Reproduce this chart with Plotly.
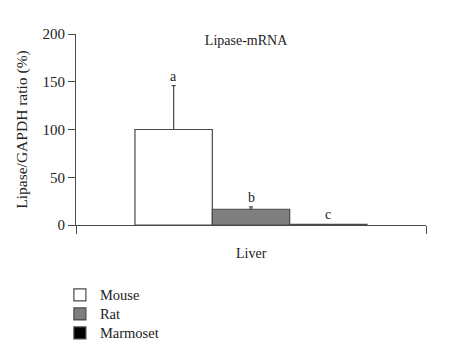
import plotly.graph_objects as go

categories = ["Liver"]
species = ["Mouse", "Rat", "Marmoset"]
values = [100, 16.5, 0.6]
errors_up = [46, 2.5, 0]
fills = ["white", "#7f7f7f", "black"]
labels = ["a", "b", "c"]
yticks = [0, 50, 100, 150, 200]

FONT = "Liberation Serif"
LINE = "#4a4a4a"
TXT = "#222"

fig = go.Figure()
for name, v, e, c in zip(species, values, errors_up, fills):
    fig.add_trace(go.Bar(
        x=[0], y=[v], name=f"<span style='font-size:14.5px'>{name}</span>",
        marker=dict(color=c, line=dict(color=LINE, width=1.2)),
        error_y=dict(type="data", symmetric=False, array=[e], arrayminus=[0],
                     color=LINE, thickness=1.2, width=2, visible=e > 0),
    ))

# significance letters above each bar
n = len(species)
bgap = 0.337
bw = (1 - bgap) / n
for i, (v, e, t) in enumerate(zip(values, errors_up, labels)):
    xc = -0.5 + bgap / 2 + bw * (i + 0.5)
    fig.add_annotation(x=xc, y=v + e, text=t, showarrow=False, yanchor="bottom",
                       yshift=0, font=dict(family=FONT, size=14, color=TXT))

fig.add_annotation(x=0, y=0, text=categories[0], showarrow=False, yanchor="top",
                   yshift=-19, font=dict(family=FONT, size=14, color=TXT))

fig.update_layout(
    width=445, height=342,
    margin=dict(l=68, r=27, t=26, b=125, autoexpand=False),
    paper_bgcolor="white", plot_bgcolor="white",
    barmode="group", bargap=bgap, bargroupgap=0,
    title=dict(text="Lipase-mRNA", x=0.535, xanchor="center", y=0.905, yanchor="middle",
               font=dict(family=FONT, size=14, color=TXT)),
    font=dict(family=FONT, size=14, color=TXT),
    xaxis=dict(range=[-0.5, 0.5], tickvals=[-0.5, 0.5], ticktext=["", ""],
               ticks="outside", ticklen=8, tickcolor=LINE, tickwidth=1.2,
               showline=True, linecolor=LINE, linewidth=1.2, showgrid=False,
               zeroline=False, automargin=False),
    yaxis=dict(range=[0, 200], tickvals=yticks, ticks="outside", ticklen=7,
               tickcolor=LINE, tickwidth=1.2, showline=True, linecolor=LINE,
               linewidth=1.2, showgrid=False, zeroline=False, automargin=False,
               tickfont=dict(family=FONT, size=15, color=TXT),
               title=dict(text="Lipase/GAPDH ratio (%)", standoff=10,
                          font=dict(family=FONT, size=15.5, color=TXT))),
    legend=dict(x=-0.046, xanchor="left", y=-0.29, yanchor="top",
                font=dict(family=FONT, size=12, color=TXT),
                tracegroupgap=0, itemwidth=30, bgcolor="rgba(0,0,0,0)"),
)

fig.write_html("out.html")
